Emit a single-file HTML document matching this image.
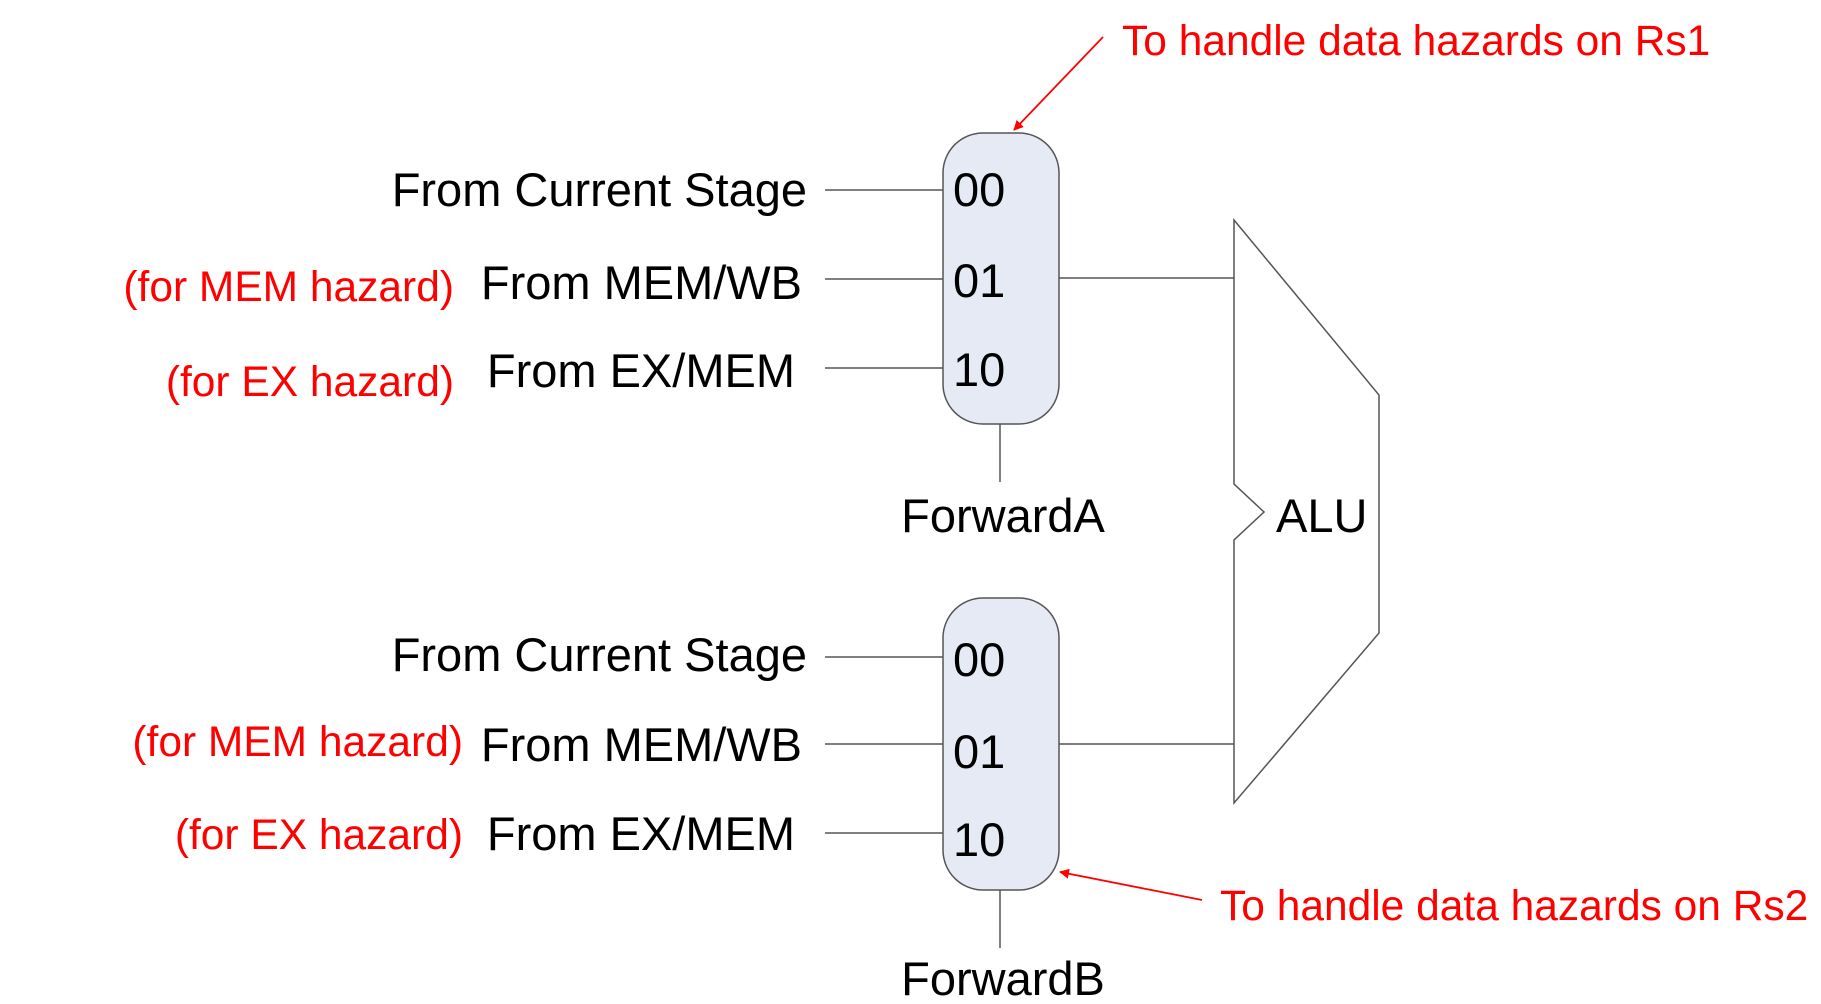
<!DOCTYPE html>
<html><head><meta charset="utf-8"><style>html,body{margin:0;padding:0;background:#fff;}svg{display:block}</style></head>
<body>
<svg width="1821" height="1004" viewBox="0 0 1821 1004" xmlns="http://www.w3.org/2000/svg" font-family="'Liberation Sans', Arial, sans-serif">
<defs><marker id="ah" markerWidth="10" markerHeight="10" refX="9" refY="5" orient="auto" markerUnits="userSpaceOnUse"><path d="M0,0 L10,5 L0,10 z" fill="#f00"/></marker></defs>
<g stroke="#555" stroke-width="1.5" fill="none">
<line x1="825" y1="190" x2="943" y2="190"/><line x1="825" y1="279" x2="943" y2="279"/><line x1="825" y1="368" x2="943" y2="368"/>
<line x1="825" y1="657" x2="943" y2="657"/><line x1="825" y1="744" x2="943" y2="744"/><line x1="825" y1="833" x2="943" y2="833"/>
<line x1="1058" y1="278" x2="1234" y2="278"/><line x1="1058" y1="744" x2="1234" y2="744"/>
<line x1="1000" y1="423" x2="1000" y2="482"/><line x1="1000" y1="890" x2="1000" y2="948"/>
<polygon points="1234,220 1379,395 1379,633 1234,803 1234,540 1264,512 1234,484" />
</g>
<rect x="943" y="133" width="116" height="291" rx="40" fill="#e5eaf5" stroke="#555" stroke-width="1.5"/>
<rect x="943" y="598" width="116" height="292" rx="40" fill="#e5eaf5" stroke="#555" stroke-width="1.5"/>
<g font-size="47" fill="#000">
<text x="807" y="206" text-anchor="end">From Current Stage</text>
<text x="802" y="299" text-anchor="end">From MEM/WB</text>
<text x="795" y="387" text-anchor="end">From EX/MEM</text>
<text x="807" y="671" text-anchor="end">From Current Stage</text>
<text x="802" y="761" text-anchor="end">From MEM/WB</text>
<text x="795" y="850" text-anchor="end">From EX/MEM</text>
<text x="953" y="206">00</text><text x="953" y="297">01</text><text x="953" y="386">10</text>
<text x="953" y="676">00</text><text x="953" y="768">01</text><text x="953" y="856">10</text>
<text x="1003" y="532" text-anchor="middle">ForwardA</text>
<text x="1003" y="995" text-anchor="middle">ForwardB</text>
<text x="1276" y="532">ALU</text>
</g>
<g font-size="42.5" fill="#f00">
<text x="454" y="301" text-anchor="end">(for MEM hazard)</text>
<text x="454" y="396" text-anchor="end">(for EX hazard)</text>
<text x="463" y="756" text-anchor="end">(for MEM hazard)</text>
<text x="463" y="849" text-anchor="end">(for EX hazard)</text>
<text x="1122" y="55">To handle data hazards on Rs1</text>
<text x="1220" y="920">To handle data hazards on Rs2</text>
</g>
<g stroke="#f00" stroke-width="1.8">
<line x1="1103" y1="37" x2="1014" y2="130" marker-end="url(#ah)"/>
<line x1="1202" y1="900" x2="1060" y2="872" marker-end="url(#ah)"/>
</g>
</svg>
</body></html>
